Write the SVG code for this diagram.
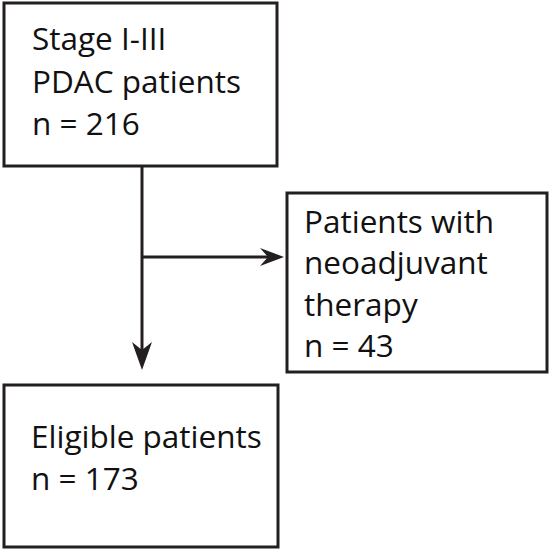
<svg xmlns="http://www.w3.org/2000/svg" width="550" height="554" viewBox="0 0 550 554">
<style>
.box{fill:#fff;stroke:#231f20;stroke-width:3}
.t{font-family:"Open Sans","Noto Sans",sans-serif;font-size:31.5px;fill:#111}
.c{stroke:#231f20;stroke-width:3;fill:none}
</style>
<rect width="550" height="554" fill="#fff"/>
<g id="connectors">
<line class="c" x1="142" y1="166" x2="142" y2="350"/>
<path d="M132,342 L142,350 L152,342 L142,370 Z" fill="#231f20"/>
<line class="c" x1="142" y1="257" x2="268" y2="257"/>
<path d="M260,248 L268,257 L260,266 L284,257 Z" fill="#231f20"/>
</g>
<g id="node-stage">
<rect class="box" x="4" y="3" width="273" height="163"/>
<text class="t" x="32" y="50">Stage I-III</text>
<text class="t" x="32" y="93">PDAC patients</text>
<text class="t" x="32" y="135">n = 216</text>
</g>
<g id="node-neo">
<rect class="box" x="287" y="193" width="260" height="179"/>
<text class="t" x="304" y="233">Patients with</text>
<text class="t" x="304" y="274">neoadjuvant</text>
<text class="t" x="304" y="316">therapy</text>
<text class="t" x="304" y="357">n = 43</text>
</g>
<g id="node-eligible">
<rect class="box" x="4" y="385" width="274" height="162"/>
<text class="t" x="31" y="448">Eligible patients</text>
<text class="t" x="31" y="490">n = 173</text>
</g>
</svg>
